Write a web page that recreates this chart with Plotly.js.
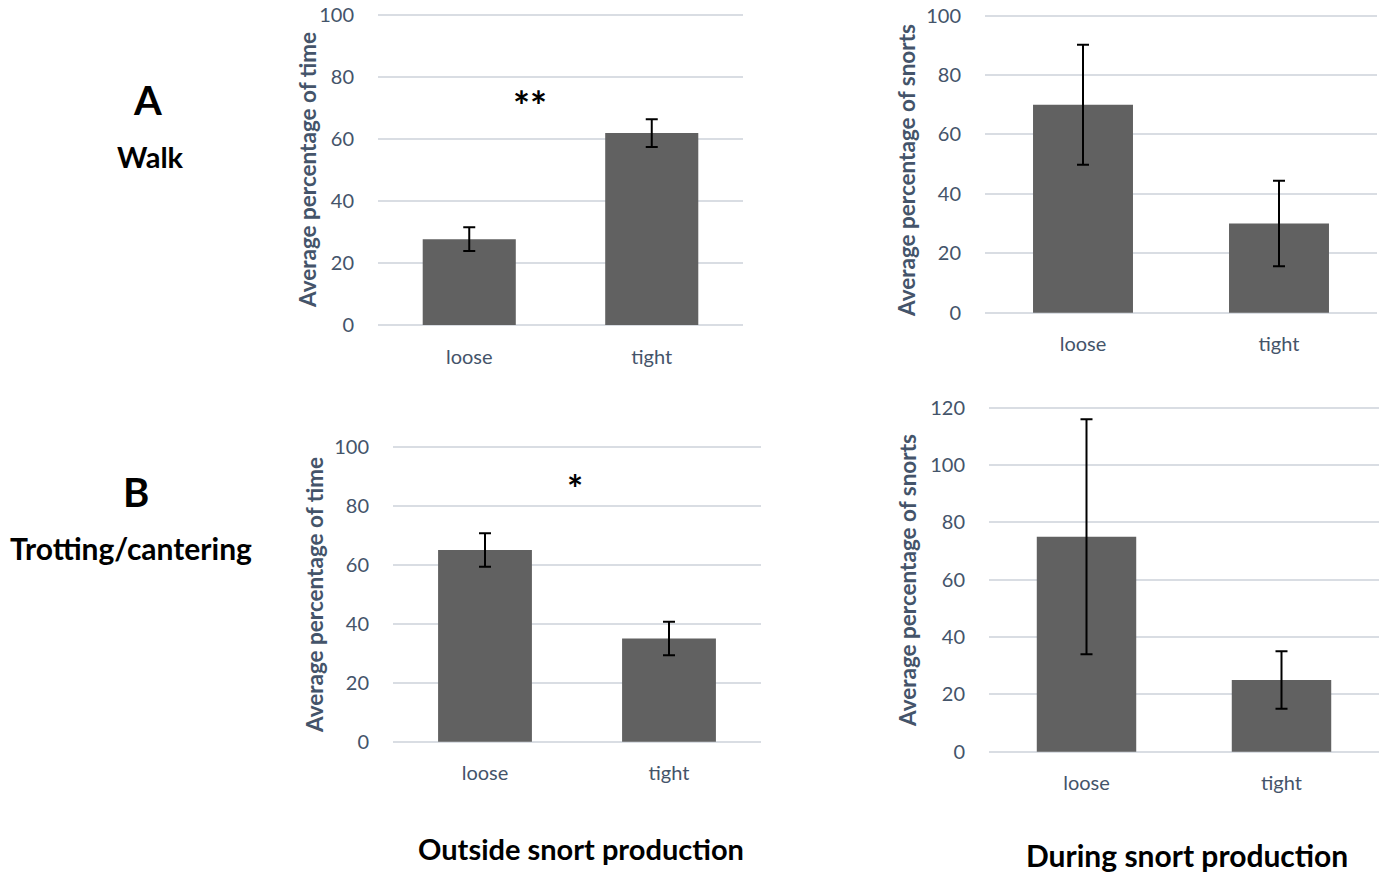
<!DOCTYPE html>
<html>
<head>
<meta charset="utf-8">
<script src="https://cdn.plot.ly/plotly-3.0.1.min.js"></script>
<style>html,body{margin:0;padding:0;background:#fff;}#chart{width:1389px;height:872px;}</style>
</head>
<body>
<div id="chart"></div>
<script>
// ---- data ----
const categories = ["loose", "tight"];
// A: Walk
const walkOutside = [27.7, 61.9];
const walkOutsideErr = [3.8, 4.5];
const walkDuring = [70, 30];
const walkDuringErr = [20.2, 14.4];
// B: Trotting/cantering
const trotOutside = [65, 35];
const trotOutsideErr = [5.7, 5.7];
const trotDuring = [75, 25];
const trotDuringErr = [41, 10];
// tick labels
const ticks100 = [0, 20, 40, 60, 80, 100];
const ticks120 = [0, 20, 40, 60, 80, 100, 120];
const titleTime = "Average percentage of time";
const titleSnorts = "Average percentage of snorts";

// ---- style ----
const FONT = "Lato, 'Open Sans', sans-serif";
const AXCOL = "#44546a";
const GRID = "#d9dde3";
const BAR = "#616161";

function barTrace(vals, errs, xa, ya) {
  return {
    type: "bar", x: categories, y: vals, xaxis: xa, yaxis: ya,
    marker: {color: BAR},
    error_y: {type: "data", array: errs, visible: true, color: "#000", thickness: 2, width: 6},
    hoverinfo: "x+y", showlegend: false
  };
}

const data = [
  barTrace(walkOutside, walkOutsideErr, "x", "y"),
  barTrace(walkDuring, walkDuringErr, "x2", "y2"),
  barTrace(trotOutside, trotOutsideErr, "x3", "y3"),
  barTrace(trotDuring, trotDuringErr, "x4", "y4")
];

const W = 1389, H = 872;
const EPS = 0.6; // small padding so the gridlines at 0 and max are drawn
function xd(a, b) { return [a / W, b / W]; }
function yd(top, bottom, maxv) {
  const pad = EPS * (bottom - top) / maxv;
  return [1 - (bottom + pad) / H, 1 - (top - pad) / H];
}

function xax(dom, anchor) {
  return {
    domain: dom, anchor: anchor, type: "category", showgrid: false, zeroline: false, showline: false,
    ticks: "outside", ticklen: 12, tickcolor: "rgba(0,0,0,0)",
    tickfont: {family: FONT, size: 20, color: AXCOL}, fixedrange: true
  };
}
function yax(top, bottom, anchor, maxv, tv) {
  return {
    domain: yd(top, bottom, maxv), anchor: anchor, range: [-EPS, maxv + EPS], tickvals: tv,
    showgrid: true, gridcolor: GRID, gridwidth: 1.5,
    zeroline: false, showline: false,
    ticks: "outside", ticklen: 19, tickcolor: "rgba(0,0,0,0)",
    tickfont: {family: FONT, size: 20, color: AXCOL},
    fixedrange: true
  };
}

function label(text, px, py, size, color, angle) {
  return {text: text, xref: "paper", yref: "paper", x: px / W, y: 1 - py / H,
    xanchor: "center", yanchor: "middle", showarrow: false, textangle: angle || 0,
    font: {family: FONT, size: size, color: color || "#000", weight: "bold"}};
}

const layout = {
  width: W, height: H, margin: {l: 0, r: 0, t: 0, b: 0},
  paper_bgcolor: "#fff", plot_bgcolor: "#fff",
  bargap: 0.49,
  font: {family: FONT},
  xaxis: xax(xd(378, 743), "y"),
  yaxis: yax(15, 325, "x", 100, ticks100),
  xaxis2: xax(xd(985, 1377), "y2"),
  yaxis2: yax(15.7, 312.7, "x2", 100, ticks100),
  xaxis3: xax(xd(393, 761), "y3"),
  yaxis3: yax(446.7, 741.7, "x3", 100, ticks100),
  xaxis4: xax(xd(989, 1379), "y4"),
  yaxis4: yax(407.7, 751.7, "x4", 120, ticks120),
  annotations: [
    // y-axis titles
    label(titleTime, 307, 170, 22.5, AXCOL, -90),
    label(titleSnorts, 906, 170, 22.5, AXCOL, -90),
    label(titleTime, 314, 595, 22.5, AXCOL, -90),
    label(titleSnorts, 907, 581, 22.5, AXCOL, -90),
    // significance marks and panel labels
    label("**", 530, 106, 40),
    label("*", 575, 488, 38),
    label("A", 147, 100, 40),
    label("Walk", 150, 156, 29),
    label("B", 136, 492, 40),
    label("Trotting/cantering", 131, 548, 30),
    label("Outside snort production", 581, 848, 29),
    label("During snort production", 1187, 855, 30)
  ]
};

Plotly.newPlot("chart", data, layout, {displayModeBar: false});
</script>
</body>
</html>
